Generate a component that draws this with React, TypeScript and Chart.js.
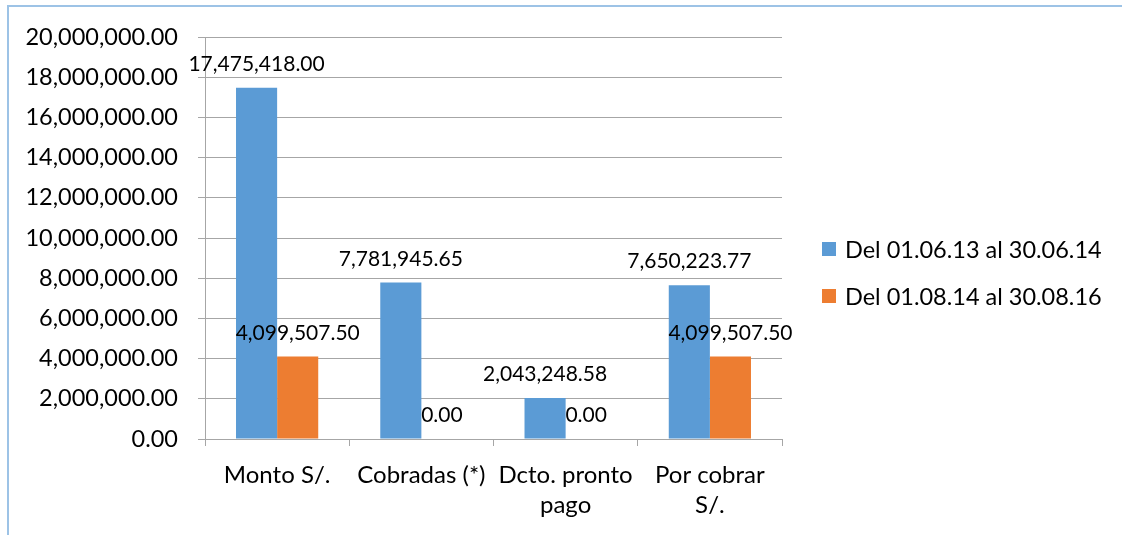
import React, { useEffect, useRef } from "react";
import { Chart, registerables } from "chart.js";

Chart.register(...registerables);

const categories: (string | string[])[] = [
  "Monto S/.",
  "Cobradas (*)",
  ["Dcto. pronto", "pago"],
  ["Por cobrar", "S/."],
];
const seriesNames = ["Del 01.06.13 al 30.06.14", "Del 01.08.14 al 30.08.16"];
const series1 = [17475418.0, 7781945.65, 2043248.58, 7650223.77];
const series2 = [4099507.5, 0, 0, 4099507.5];
const colors = ["#5b9bd5", "#ed7d31"];

const FONT = "Lato, 'Open Sans', sans-serif";
const fmt = (v: number) =>
  v.toLocaleString("en-US", { minimumFractionDigits: 2, maximumFractionDigits: 2 });

const dataLabels = {
  id: "dataLabels",
  afterDatasetsDraw(chart: any) {
    const ctx = chart.ctx;
    ctx.save();
    ctx.font = `21px ${FONT}`;
    ctx.fillStyle = "#000";
    ctx.textAlign = "center";
    ctx.textBaseline = "alphabetic";
    chart.data.datasets.forEach((ds: any, i: number) => {
      const meta = chart.getDatasetMeta(i);
      meta.data.forEach((el: any, j: number) => {
        ctx.fillText(fmt(ds.data[j]), el.x, el.y - 17);
      });
    });
    ctx.restore();
  },
};

export default function App() {
  const ref = useRef<HTMLCanvasElement | null>(null);
  useEffect(() => {
    if (!ref.current) return;
    const chart = new Chart(ref.current, {
      type: "bar",
      data: {
        labels: categories as any,
        datasets: [
          { label: seriesNames[0], data: series1, backgroundColor: colors[0], barPercentage: 1, categoryPercentage: 0.57 },
          { label: seriesNames[1], data: series2, backgroundColor: colors[1], barPercentage: 1, categoryPercentage: 0.57 },
        ],
      },
      options: {
        animation: false,
        responsive: false,
        layout: { padding: { left: 0, right: 340, top: 37, bottom: 15 } },
        plugins: { legend: { display: false }, tooltip: { enabled: false } },
        scales: {
          x: {
            grid: { display: true, offset: true, drawOnChartArea: false, drawTicks: true, tickLength: 7, color: "#a6a6a6" },
            border: { display: true, color: "#a6a6a6" },
            ticks: { color: "#000", font: { family: FONT, size: 24, lineHeight: 1.25 }, padding: 14, maxRotation: 0, autoSkip: false },
            afterFit: (s: any) => { s.height = 81; },
          },
          y: {
            min: 0,
            max: 20000000,
            grid: { color: "#a6a6a6", tickLength: 7, drawTicks: true },
            border: { display: true, color: "#a6a6a6" },
            ticks: {
              stepSize: 2000000,
              color: "#000",
              padding: 20,
              font: { family: FONT, size: 23.5 },
              callback: (v: any) => fmt(Number(v)),
            },
            afterFit: (s: any) => { s.width = 205; },
          },
        },
      },
      plugins: [dataLabels],
    });
    return () => chart.destroy();
  }, []);

  return (
    <div style={{ position: "absolute", left: 0, top: 0, width: 1122, height: 535, overflow: "hidden", background: "#fff" }}>
      <canvas ref={ref} width={1122} height={535} style={{ position: "absolute", left: 0, top: 0 }} />
      <div
        style={{
          position: "absolute",
          left: 7,
          top: 5,
          width: 1200,
          height: 600,
          borderLeft: "2px solid #9dc3e6",
          borderTop: "2px solid #9dc3e6",
          pointerEvents: "none",
        }}
      />
      {seriesNames.map((name, i) => (
        <div
          key={name}
          style={{
            position: "absolute",
            left: 822,
            top: 234 + i * 47,
            height: 30,
            display: "flex",
            alignItems: "center",
            fontFamily: FONT,
            fontSize: 23.5,
            color: "#000",
            whiteSpace: "nowrap",
          }}
        >
          <span style={{ display: "inline-block", width: 14, height: 14, background: colors[i], marginRight: 9 }} />
          <span>{name}</span>
        </div>
      ))}
    </div>
  );
}
